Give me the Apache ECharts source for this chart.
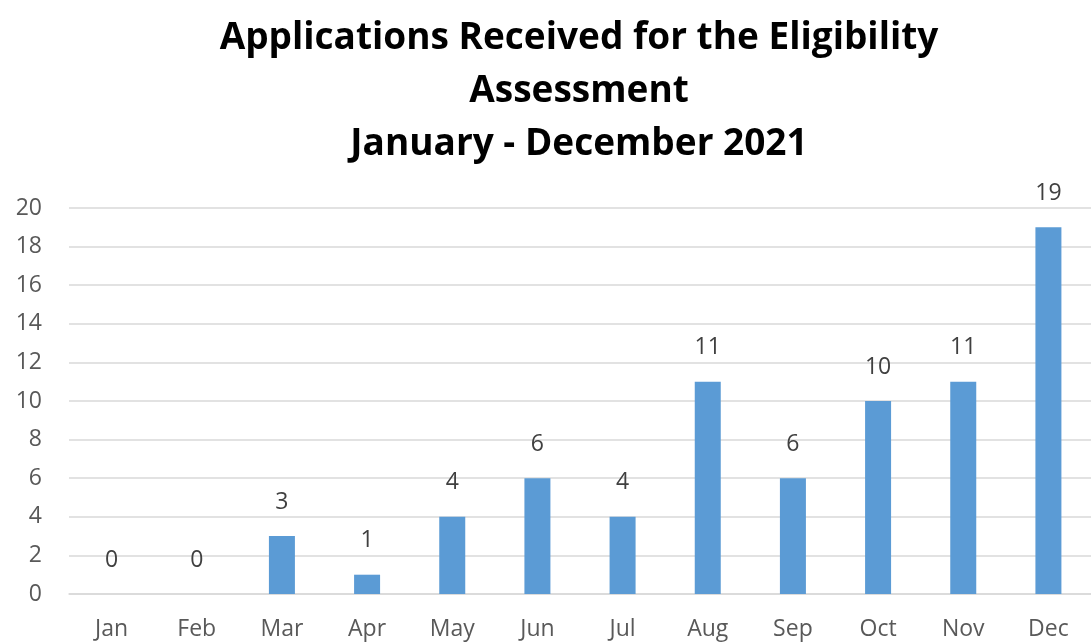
<!DOCTYPE html>
<html>
<head>
<meta charset="utf-8">
<script src="https://cdn.jsdelivr.net/npm/echarts@6/dist/echarts.min.js"></script>
<style>html,body{margin:0;padding:0;background:#fff;}#c{width:1091px;height:643px;}</style>
</head>
<body>
<div id="c"></div>
<script>
const titleLines = ['Applications Received for the Eligibility', 'Assessment', 'January - December 2021'];
const categories = ['Jan', 'Feb', 'Mar', 'Apr', 'May', 'Jun', 'Jul', 'Aug', 'Sep', 'Oct', 'Nov', 'Dec'];
const applications = [0, 0, 3, 1, 4, 6, 4, 11, 6, 10, 11, 19];
const yTicks = { min: 0, max: 20, interval: 2 };

const FONT = 'Open Sans';
const chart = echarts.init(document.getElementById('c'));
chart.setOption({
  animation: false,
  title: {
    text: titleLines.join('\n'),
    left: 574,
    textAlign: 'center',
    top: 7,
    textStyle: { fontFamily: FONT, fontWeight: 'bold', fontSize: 37, lineHeight: 53, color: '#000' }
  },
  grid: { left: 69, top: 208, bottom: 49, width: 1033 },
  xAxis: {
    type: 'category',
    data: categories,
    axisTick: { show: false },
    axisLine: { lineStyle: { color: '#d9d9d9', width: 1.5 } },
    axisLabel: { fontFamily: FONT, fontSize: 23, lineHeight: 24, color: '#595959', margin: 23 }
  },
  yAxis: {
    type: 'value',
    min: yTicks.min, max: yTicks.max, interval: yTicks.interval,
    axisLine: { show: false },
    axisTick: { show: false },
    splitLine: { lineStyle: { color: '#d9d9d9', width: 1.5 } },
    axisLabel: { fontFamily: FONT, fontSize: 23, color: '#595959', margin: 27 }
  },
  series: [{
    type: 'bar',
    data: applications,
    barWidth: 26,
    itemStyle: { color: '#5b9bd5' },
    label: {
      show: true, position: 'top', distance: 22,
      fontFamily: FONT, fontSize: 23, lineHeight: 24, color: '#404040'
    }
  }]
});
</script>
</body>
</html>
